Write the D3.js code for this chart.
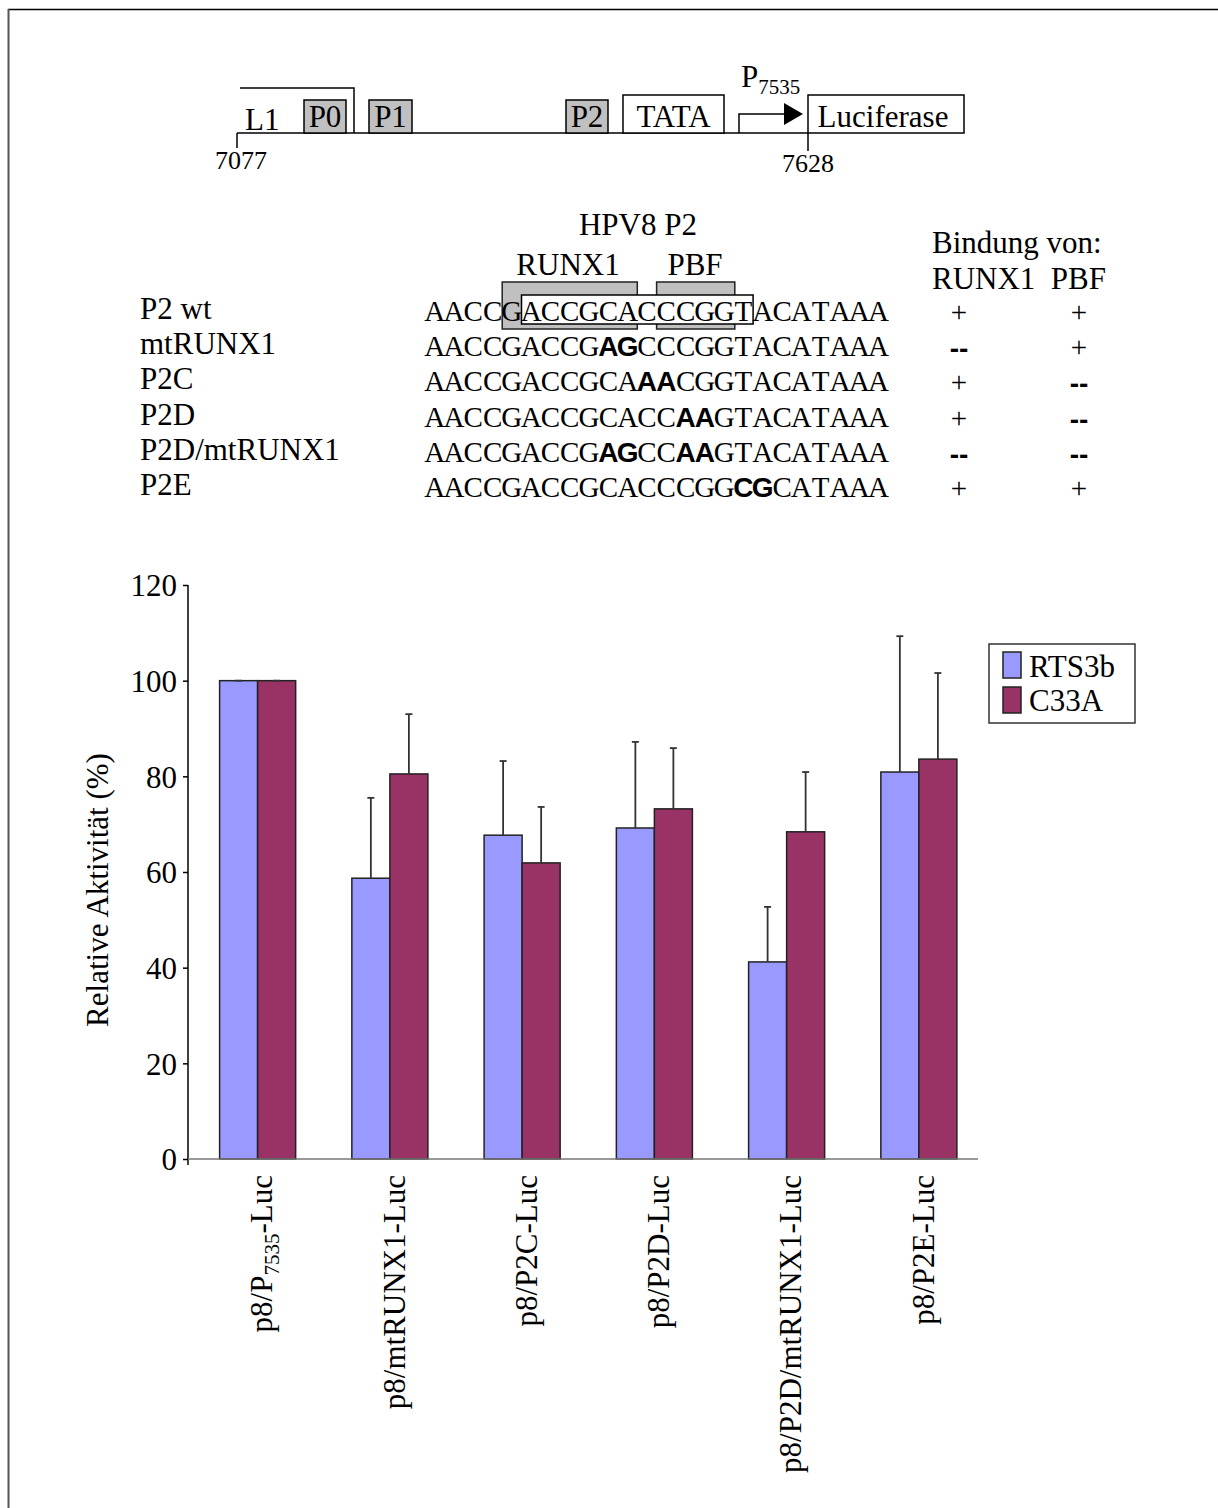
<!DOCTYPE html>
<html>
<head>
<meta charset="utf-8">
<script src="https://cdn.jsdelivr.net/npm/d3@7"></script>
<style>
  html, body { margin: 0; padding: 0; background: #fff; }
  svg { display: block; }
  text { font-family: "Liberation Serif", "Times New Roman", serif; fill: #000; }
</style>
</head>
<body>
<svg id="fig" width="1218" height="1508"></svg>
<script>
// ---- Data ----
const categories = ["p8/P7535-Luc", "p8/mtRUNX1-Luc", "p8/P2C-Luc", "p8/P2D-Luc", "p8/P2D/mtRUNX1-Luc", "p8/P2E-Luc"];
const seriesNames = ["RTS3b", "C33A"];
const rts3b = [100, 58.7, 67.7, 69.2, 41.2, 80.9];
const c33a = [100, 80.5, 61.9, 73.2, 68.4, 83.6];
const rts3bErr = [0, 16.8, 15.5, 18.0, 11.5, 28.4];
const c33aErr = [0, 12.5, 11.7, 12.7, 12.5, 18.0];
const yTicks = [0, 20, 40, 60, 80, 100, 120];
const seriesColors = ["#9999FF", "#993366"];

// Promoter constructs and their sequences
const seqNames = ["P2 wt", "mtRUNX1", "P2C", "P2D", "P2D/mtRUNX1", "P2E"];
const sequences = [
  "AACCGACCGCACCCGGTACATAAA",
  "AACCGACCGAGCCCGGTACATAAA",
  "AACCGACCGCAAACGGTACATAAA",
  "AACCGACCGCACCAAGTACATAAA",
  "AACCGACCGAGCCAAGTACATAAA",
  "AACCGACCGCACCCGGCGCATAAA"
];
const mutatedPositions = [[], [9, 10], [11, 12], [13, 14], [9, 10, 13, 14], [16, 17]];
const runxBinding = ["+", "--", "+", "+", "--", "+"];
const pbfBinding = ["+", "+", "--", "--", "--", "+"];

const svg = d3.select("#fig");

// ---- Page frame ----
svg.append("line").attr("x1", 8).attr("x2", 1218).attr("y1", 9.5).attr("y2", 9.5)
  .attr("stroke", "#000").attr("stroke-width", 1.5);
svg.append("line").attr("x1", 8.5).attr("x2", 8.5).attr("y1", 9).attr("y2", 1508)
  .attr("stroke", "#555").attr("stroke-width", 2);

// ---- Promoter map ----
const map = svg.append("g");
const baseY = 133;
map.append("line").attr("x1", 237).attr("x2", 808).attr("y1", baseY).attr("y2", baseY)
  .attr("stroke", "#000").attr("stroke-width", 1.5);
// L1 bracket
map.append("path").attr("d", `M240,88 H354 V${baseY}`).attr("fill", "none")
  .attr("stroke", "#000").attr("stroke-width", 1.5);
map.append("text").attr("x", 245).attr("y", 130).attr("font-size", 31).text("L1");
// coordinate ticks
map.append("line").attr("x1", 237).attr("x2", 237).attr("y1", baseY).attr("y2", 148)
  .attr("stroke", "#000").attr("stroke-width", 1.5);
map.append("text").attr("x", 241).attr("y", 169).attr("text-anchor", "middle").attr("font-size", 26).text("7077");
map.append("line").attr("x1", 808).attr("x2", 808).attr("y1", baseY).attr("y2", 151)
  .attr("stroke", "#000").attr("stroke-width", 1.5);
map.append("text").attr("x", 808).attr("y", 172).attr("text-anchor", "middle").attr("font-size", 26).text("7628");

const mapBoxes = [
  { label: "P0", x0: 304, x1: 346, y0: 100, fill: "#c0c0c0" },
  { label: "P1", x0: 369, x1: 412, y0: 100, fill: "#c0c0c0" },
  { label: "P2", x0: 566, x1: 608, y0: 100, fill: "#c0c0c0" },
  { label: "TATA", x0: 623, x1: 724, y0: 95, fill: "#fff" },
  { label: "Luciferase", x0: 808, x1: 964, y0: 95, fill: "#fff" }
];
mapBoxes.forEach(b => {
  map.append("rect").attr("x", b.x0).attr("y", b.y0).attr("width", b.x1 - b.x0).attr("height", baseY - b.y0)
    .attr("fill", b.fill).attr("stroke", "#000").attr("stroke-width", 1.5);
  map.append("text").attr("x", (b.x0 + b.x1) / 2 - (b.label === "Luciferase" ? 3 : 0)).attr("y", 127)
    .attr("text-anchor", "middle").attr("font-size", 31).text(b.label);
});
// transcription start arrow
map.append("path").attr("d", `M739,${baseY} V114 H786`).attr("fill", "none")
  .attr("stroke", "#000").attr("stroke-width", 1.5);
map.append("path").attr("d", "M784,103 L803,114 L784,125 Z").attr("fill", "#000");
const pt = map.append("text").attr("x", 741).attr("y", 87).attr("font-size", 31);
pt.append("tspan").text("P");
pt.append("tspan").attr("font-size", 21).attr("dy", 7).text("7535");

// ---- Sequence table ----
const seqG = svg.append("g");
const charW = 19.3, seqX0 = 425;
const rowBase = i => 321 + i * 35.2;

seqG.append("text").attr("x", 638).attr("y", 235).attr("text-anchor", "middle").attr("font-size", 31).text("HPV8 P2");
seqG.append("text").attr("x", 568).attr("y", 275).attr("text-anchor", "middle").attr("font-size", 31).text("RUNX1");
seqG.append("text").attr("x", 695).attr("y", 275).attr("text-anchor", "middle").attr("font-size", 31).text("PBF");

// binding-site boxes behind the wild-type sequence
seqG.append("rect").attr("x", seqX0 + 4 * charW).attr("y", 282).attr("width", 7 * charW).attr("height", 47)
  .attr("fill", "#c0c0c0").attr("stroke", "#222").attr("stroke-width", 1.5);
seqG.append("rect").attr("x", seqX0 + 12 * charW).attr("y", 282).attr("width", 4 * charW + 1).attr("height", 47)
  .attr("fill", "#c0c0c0").attr("stroke", "#222").attr("stroke-width", 1.5);
seqG.append("rect").attr("x", seqX0 + 5 * charW).attr("y", 295).attr("width", 12 * charW).attr("height", 29)
  .attr("fill", "#fff").attr("stroke", "#000").attr("stroke-width", 1.5);

// each base sits in its own fixed-width cell so the columns line up
sequences.forEach((s, i) => {
  seqG.append("text").attr("x", 140).attr("y", rowBase(i) - 2).attr("font-size", 31).text(seqNames[i]);
  s.split("").forEach((ch, j) => {
    const bold = mutatedPositions[i].includes(j);
    const t = seqG.append("text")
      .attr("x", seqX0 + (j + 0.5) * charW)
      .attr("y", rowBase(i))
      .attr("text-anchor", "middle")
      .text(ch);
    if (bold) {
      t.attr("font-weight", "bold").attr("font-size", 28)
        .style("font-family", "'Liberation Sans', Arial, sans-serif");
    } else {
      t.attr("font-size", 29).attr("fill", "#222")
        .style("font-family", "'Liberation Serif', 'Times New Roman', serif");
    }
  });
  [[runxBinding[i], 959], [pbfBinding[i], 1079]].forEach(([v, x]) => {
    const t = seqG.append("text").attr("x", x).attr("y", rowBase(i) + (v === "+" ? 1 : 2)).attr("text-anchor", "middle");
    if (v === "+") t.attr("font-size", 29).text("+");
    else t.attr("font-size", 28).attr("font-weight", "bold")
      .style("font-family", "'Liberation Sans', Arial, sans-serif").text("--");
  });
});
seqG.append("text").attr("x", 932).attr("y", 253).attr("font-size", 31).text("Bindung von:");
seqG.append("text").attr("x", 932).attr("y", 289).attr("font-size", 31).attr("xml:space", "preserve").text("RUNX1  PBF");

// ---- Bar chart ----
const chart = svg.append("g");
const y = d3.scaleLinear().domain([0, 120]).range([1159, 585]);
const x0 = d3.scaleBand().domain(categories).range([191.5, 985]).paddingInner(0.425).paddingOuter(0.2125);
const x1 = d3.scaleBand().domain(seriesNames).range([0, x0.bandwidth()]);

const values = [rts3b, c33a];
const errors = [rts3bErr, c33aErr];

// y axis
const yAxis = chart.append("g").attr("transform", "translate(188,0)")
  .call(d3.axisLeft(y).tickValues(yTicks).tickSize(5).tickPadding(6).tickFormat(d3.format("d")));
yAxis.select(".domain").attr("stroke", "#000").attr("stroke-width", 1.5).attr("d", `M0,${y(120)}V${y(0) + 6}`);
yAxis.selectAll(".tick line").attr("stroke", "#000").attr("stroke-width", 1.5);
yAxis.selectAll(".tick text").attr("font-size", 31).attr("font-family", "'Liberation Serif', serif")
  .attr("fill", "#000").attr("dy", "0.35em");

// bars
seriesNames.forEach((name, si) => {
  chart.append("g").selectAll("rect").data(categories).join("rect")
    .attr("x", c => x0(c) + x1(name))
    .attr("y", (c, i) => y(values[si][i]))
    .attr("width", x1.bandwidth())
    .attr("height", (c, i) => y(0) - y(values[si][i]))
    .attr("fill", seriesColors[si])
    .attr("stroke", "#222").attr("stroke-width", 1.5);
});

// x axis line
chart.append("line").attr("x1", 188).attr("x2", 978).attr("y1", y(0)).attr("y2", y(0))
  .attr("stroke", "#777").attr("stroke-width", 1.5);

// error bars (upper only)
seriesNames.forEach((name, si) => {
  const g = chart.append("g").attr("stroke", "#333").attr("stroke-width", 1.8);
  categories.forEach((c, i) => {
    const cx = x0(c) + x1(name) + x1.bandwidth() / 2;
    const top = y(values[si][i] + errors[si][i]);
    g.append("line").attr("x1", cx).attr("x2", cx).attr("y1", y(values[si][i])).attr("y2", top);
    g.append("line").attr("x1", cx - 3.5).attr("x2", cx + 3.5).attr("y1", top).attr("y2", top);
  });
});

// category labels, rotated
categories.forEach(c => {
  const cx = x0(c) + x0.bandwidth() / 2 + 4;
  const t = chart.append("text")
    .attr("transform", `translate(${cx},1175) rotate(-90)`)
    .attr("text-anchor", "end").attr("dy", "0.35em").attr("font-size", 31);
  const m = c.match(/^(.*P)(\d{4})(-Luc)$/);
  if (m) {
    t.append("tspan").text(m[1]);
    t.append("tspan").attr("font-size", 21).attr("dy", 7).text(m[2]);
    t.append("tspan").attr("dy", -7).text(m[3]);
  } else {
    t.text(c);
  }
});

// y title
chart.append("text").attr("transform", "translate(108,890) rotate(-90)")
  .attr("text-anchor", "middle").attr("font-size", 31).text("Relative Aktivität (%)");

// legend
const lg = chart.append("g");
lg.append("rect").attr("x", 989).attr("y", 644).attr("width", 146).attr("height", 79)
  .attr("fill", "#fff").attr("stroke", "#333").attr("stroke-width", 1.5);
seriesNames.forEach((name, si) => {
  lg.append("rect").attr("x", 1003).attr("y", 652 + si * 35).attr("width", 18).attr("height", 26)
    .attr("fill", seriesColors[si]).attr("stroke", "#222").attr("stroke-width", 1.5);
  lg.append("text").attr("x", 1029).attr("y", 677 + si * 34).attr("font-size", 31).text(name);
});
</script>
</body>
</html>
